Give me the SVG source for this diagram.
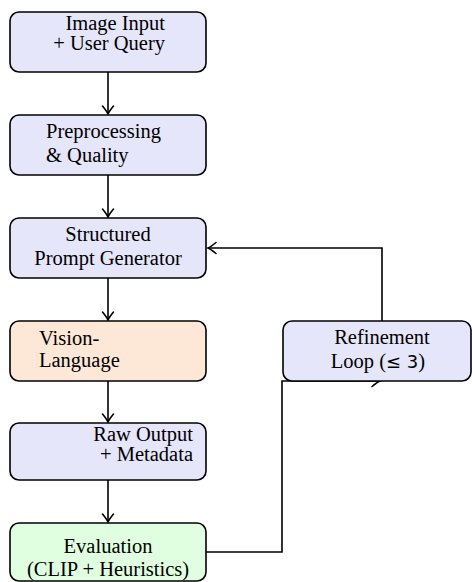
<svg xmlns="http://www.w3.org/2000/svg" width="472" height="582" viewBox="0 0 472 582">
<style>
.box{stroke:#000;stroke-width:1.6}
.blue{fill:#E6E6FA}
.peach{fill:#FDE8D7}
.green{fill:#E0FFE0}
.t{font-family:'Liberation Serif','Times New Roman',serif;font-size:20.5px;fill:#000}
.c{text-anchor:middle}
.r{text-anchor:end}
.l{text-anchor:start}
.sans{font-family:'DejaVu Sans',sans-serif;font-size:18px}
.conn{fill:none;stroke:#000;stroke-width:1.6}
</style>
<defs>
<marker id="arr" markerUnits="userSpaceOnUse" markerWidth="14" markerHeight="14" viewBox="-10 -7 12 14" refX="0" refY="0" orient="auto">
<path d="M-8,-5.5 Q-2.5,-1 0,0 Q-2.5,1 -8,5.5" fill="none" stroke="#000" stroke-width="1.6" stroke-linecap="round"/>
</marker>
</defs>
<g id="connectors">
<path class="conn" d="M108,72 V114" marker-end="url(#arr)"/>
<path class="conn" d="M108,175 V217" marker-end="url(#arr)"/>
<path class="conn" d="M108,278 V320" marker-end="url(#arr)"/>
<path class="conn" d="M108,381 V422" marker-end="url(#arr)"/>
<path class="conn" d="M108,480 V522" marker-end="url(#arr)"/>
<path class="conn" d="M382,321 V248 H208" marker-end="url(#arr)"/>
<path class="conn" d="M206,552 H282 V381 H380" marker-end="url(#arr)"/>
</g>
<g id="n1">
<rect class="box blue" x="10" y="12" width="196" height="60" rx="9"/>
<text class="t r" font-family="Liberation Serif, serif" x="165" y="30">Image Input</text>
<text class="t r" font-family="Liberation Serif, serif" x="165" y="50">+ User Query</text>
</g>
<g id="n2">
<rect class="box blue" x="10" y="115" width="196" height="60" rx="9"/>
<text class="t l" font-family="Liberation Serif, serif" x="46" y="138">Preprocessing</text>
<text class="t l" font-family="Liberation Serif, serif" x="46" y="162">&amp; Quality</text>
</g>
<g id="n3">
<rect class="box blue" x="10" y="218" width="196" height="60" rx="9"/>
<text class="t c" font-family="Liberation Serif, serif" x="108" y="241">Structured</text>
<text class="t c" font-family="Liberation Serif, serif" x="108" y="265">Prompt Generator</text>
</g>
<g id="n4">
<rect class="box peach" x="10" y="321" width="196" height="60" rx="9"/>
<text class="t l" font-family="Liberation Serif, serif" x="39" y="345">Vision-</text>
<text class="t l" font-family="Liberation Serif, serif" x="39" y="367">Language</text>
</g>
<g id="n5">
<rect class="box blue" x="10" y="423" width="196" height="57" rx="9"/>
<text class="t r" font-family="Liberation Serif, serif" x="193" y="441">Raw Output</text>
<text class="t r" font-family="Liberation Serif, serif" x="193" y="461">+ Metadata</text>
</g>
<g id="n6">
<rect class="box green" x="10" y="523" width="196" height="58" rx="9"/>
<text class="t c" font-family="Liberation Serif, serif" x="108" y="553">Evaluation</text>
<text class="t c" font-family="Liberation Serif, serif" x="108" y="576">(CLIP + Heuristics)</text>
</g>
<g id="n7">
<rect class="box blue" x="283" y="321" width="188" height="60" rx="9"/>
<text class="t c" font-family="Liberation Serif, serif" x="382" y="344">Refinement</text>
<text class="t c" font-family="Liberation Serif, serif" x="378" y="368">Loop (<tspan class="sans">≤ 3</tspan>)</text>
</g>
</svg>
